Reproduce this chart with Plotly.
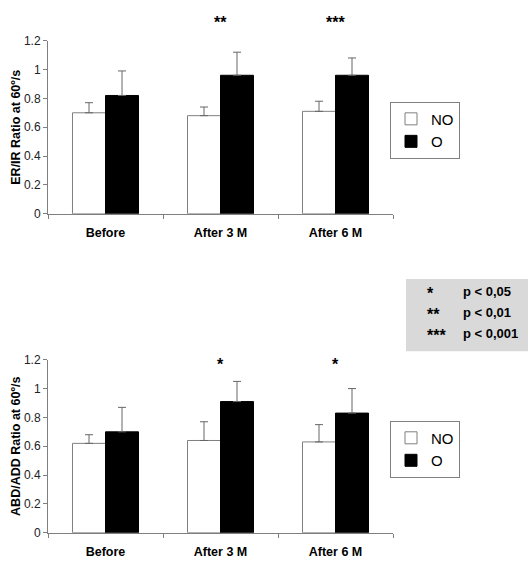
import plotly.graph_objects as go

categories = ["Before", "After 3 M", "After 6 M"]
series_names = ["NO", "O"]
er_ir_no = [0.70, 0.68, 0.71]
er_ir_no_sd = [0.07, 0.06, 0.07]
er_ir_o = [0.82, 0.96, 0.96]
er_ir_o_sd = [0.17, 0.16, 0.12]
abd_add_no = [0.62, 0.64, 0.63]
abd_add_no_sd = [0.06, 0.13, 0.12]
abd_add_o = [0.70, 0.91, 0.83]
abd_add_o_sd = [0.17, 0.14, 0.17]
er_ir_sig = ["", "**", "***"]
abd_add_sig = ["", "*", "*"]
yticks = [0, 0.2, 0.4, 0.6, 0.8, 1, 1.2]
sig_levels = ["*", "**", "***"]
p_labels = ["p < 0,05", "p < 0,01", "p < 0,001"]

W, H = 532, 568
FONT = "Liberation Sans, Arial, sans-serif"
GRAY = "#7f7f7f"


def fx(p):
    return p / W


def fy(p):
    return 1 - p / H


idx = list(range(len(categories)))
fig = go.Figure()


def add_pair(no, no_sd, o, o_sd, xa, ya, leg):
    fig.add_trace(go.Bar(
        x=idx, y=no, name=series_names[0], xaxis=xa, yaxis=ya, legend=leg,
        marker=dict(color="white", line=dict(color=GRAY, width=1)),
        error_y=dict(type="data", array=no_sd, arrayminus=[0] * len(no),
                     symmetric=False, color="#666666", thickness=1, width=4),
    ))
    fig.add_trace(go.Bar(
        x=idx, y=o, name=series_names[1], xaxis=xa, yaxis=ya, legend=leg,
        marker=dict(color="black", line=dict(color="black", width=1)),
        error_y=dict(type="data", array=o_sd, arrayminus=[0] * len(o),
                     symmetric=False, color="#666666", thickness=1, width=4),
    ))


add_pair(er_ir_no, er_ir_no_sd, er_ir_o, er_ir_o_sd, "x", "y", "legend")
add_pair(abd_add_no, abd_add_no_sd, abd_add_o, abd_add_o_sd, "x2", "y2", "legend2")

xdom = [fx(48), fx(393)]
xaxis_common = dict(
    domain=xdom, range=[-0.5, len(categories) - 0.5],
    tickmode="array", tickvals=idx, ticktext=categories, ticks="",
    ticklabelstandoff=7,
    tickfont=dict(family=FONT, size=12.5, color="black", weight="bold"),
    showline=True, linecolor=GRAY, linewidth=1, showgrid=False, zeroline=False,
    minor=dict(tickmode="array", tickvals=[i - 0.5 for i in range(len(categories) + 1)],
               ticks="outside", ticklen=4, tickcolor=GRAY, showgrid=False),
    fixedrange=True,
)
yaxis_common = dict(
    range=[0, 1.2], tickmode="array", tickvals=yticks, ticks="outside", ticklen=4,
    tickcolor=GRAY, tickfont=dict(family=FONT, size=12, color="#222"),
    showline=True, linecolor=GRAY, linewidth=1, showgrid=False, zeroline=False,
    title=dict(font=dict(family=FONT, size=12.5, color="black", weight="bold"), standoff=0),
)

legend_common = dict(
    xanchor="left", yanchor="top", bordercolor=GRAY, borderwidth=1, bgcolor="white",
    font=dict(family=FONT, size=15, color="black"), traceorder="normal",
    itemclick=False, itemdoubleclick=False, tracegroupgap=0,
)

fig.update_layout(
    width=W, height=H, margin=dict(l=0, r=0, t=0, b=0),
    paper_bgcolor="white", plot_bgcolor="white",
    barmode="group", bargap=0.426, bargroupgap=0,
    xaxis=dict(anchor="y", **xaxis_common),
    xaxis2=dict(anchor="y2", **xaxis_common),
    yaxis=dict(anchor="x", domain=[fy(212), fy(34.5)], **yaxis_common),
    yaxis2=dict(anchor="x2", domain=[fy(539), fy(361.7)], **yaxis_common),
    legend=dict(x=fx(390), y=fy(97), **legend_common),
    legend2=dict(x=fx(390), y=fy(424), **legend_common),
    showlegend=True,
)
fig.layout.yaxis.title.text = "ER/IR Ratio at 60º/s"
fig.layout.yaxis2.title.text = "ABD/ADD Ratio at 60º/s"

STAR_FONT = dict(family=FONT, size=16, color="black", weight="bold")

# significance stars (placed above each plot area)
for i, s in enumerate(er_ir_sig):
    if s:
        fig.add_annotation(x=idx[i], y=fy(16), xref="x", yref="paper", text=s,
                           showarrow=False, yanchor="middle", font=STAR_FONT)
for i, s in enumerate(abd_add_sig):
    if s:
        fig.add_annotation(x=idx[i], y=fy(367), xref="x2", yref="paper", text=s,
                           showarrow=False, yanchor="middle", font=STAR_FONT)

# p-value key box
fig.add_shape(type="rect", xref="paper", yref="paper",
              x0=fx(406), x1=fx(528), y0=fy(353), y1=fy(279),
              fillcolor="#d9d9d9", line=dict(width=0), layer="below")
rows = [292, 313, 335]
for r, s, p in zip(rows, sig_levels, p_labels):
    fig.add_annotation(x=fx(425), y=fy(r + 2), xref="paper", yref="paper", text=s,
                       xanchor="left", yanchor="middle", showarrow=False, font=STAR_FONT)
    fig.add_annotation(x=fx(461), y=fy(r), xref="paper", yref="paper", text=p,
                       xanchor="left", yanchor="middle", showarrow=False,
                       font=dict(family=FONT, size=13, color="black", weight="bold"))

fig.write_html("out.html")
